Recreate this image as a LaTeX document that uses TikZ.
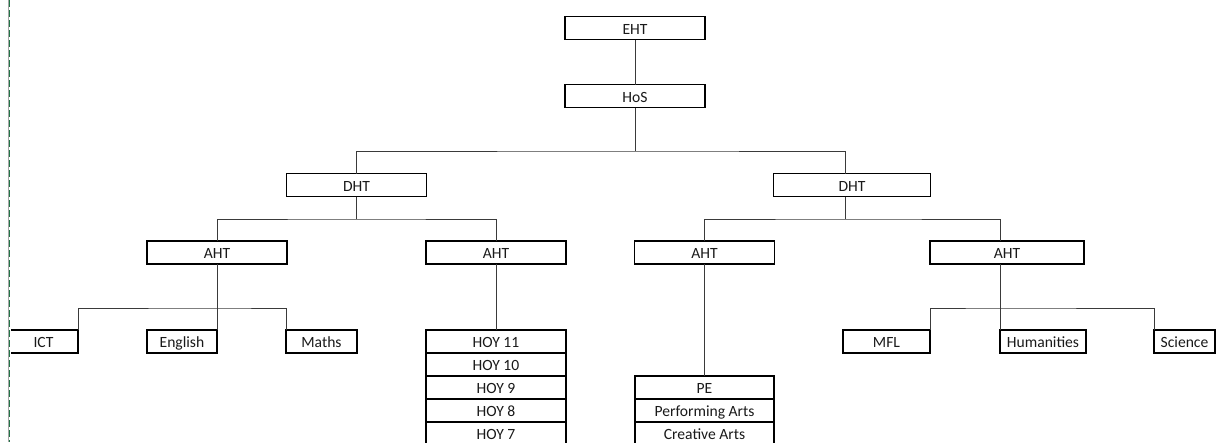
\documentclass[tikz,border=0pt]{standalone}
\usepackage{fontspec}
\setmainfont{Carlito}
\usepackage{tikz}
\usetikzlibrary{positioning, calc}
\definecolor{ohTexto}{HTML}{1A1A1A}
\definecolor{ohLinha}{HTML}{3A3A3A}
\definecolor{ohVerde}{HTML}{217346}
\definecolor{ohCinza}{HTML}{A6A6A6}

\begin{document}
\begin{tikzpicture}[x=1pt, y=-1pt, node distance=0pt]
  \tikzset{
    cargo/.style={draw=black, line width=1.8pt, fill=white, minimum width=140pt,
                  minimum height=23pt, inner sep=0pt, outer sep=0pt, text height=14pt,
                  text depth=2pt, text=ohTexto, font=\fontsize{15.6}{18}\selectfont},
    lig/.style={ohLinha, line width=1pt}}
  \clip (0,0) rectangle (1216,442);
  % topo
  \node[cargo] (eht) at (635,28) {EHT};
  \node[cargo] (hos) at (635,96) {HoS};
  \node[cargo] (dht1) at (356.5,185) {DHT};
  \node[cargo, minimum width=157pt] (dht2) at (852,185) {DHT};
  \node[cargo] (aht1) at (217,252.5) {AHT};
  \node[cargo] (aht2) at (496,252.5) {AHT};
  \node[cargo] (aht3) at (704.5,252.5) {AHT};
  \node[cargo, minimum width=154pt] (aht4) at (1007,252.5) {AHT};
  % folhas
  \node[cargo, minimum width=69pt] (ict) at (43.5,341.5) {ICT};
  \node[cargo, minimum width=70pt] (eng) at (182,341.5) {English};
  \node[cargo, minimum width=71pt] (mat) at (321.5,341.5) {Maths};
  \node[cargo] (hoy11) at (496,341.5) {HOY 11};
  \foreach \i/\p in {10/11,9/10,8/9,7/8} \node[cargo, below=of hoy\p] (hoy\i) {HOY \i};
  \node[cargo, minimum width=139pt] (pe) at (704.5,387.5) {PE};
  \node[cargo, minimum width=139pt, below=of pe] (pa) {Performing Arts};
  \node[cargo, minimum width=139pt, below=of pa] (ca) {Creative Arts};
  \node[cargo, minimum width=87pt] (mfl) at (886.5,341.5) {MFL};
  \node[cargo, minimum width=86pt] (hum) at (1043,341.5) {Humanities};
  \node[cargo, minimum width=61pt] (sci) at (1184.5,341.5) {Science};
  % ligacoes
  \coordinate (b0) at (635,151);
  \coordinate (b1) at (356.5,219);
  \coordinate (b2) at (845,219);
  \coordinate (b3) at (217,308);
  \coordinate (b4) at (1000,308);
  \draw[lig] (eht) -- (hos);
  \draw[lig] (hos) -- (b0);
  \draw[lig] (dht1.north) |- (b0) -| ($(dht2.north)+(-7,0)$);
  \draw[lig] (dht1) -- (b1);
  \draw[lig] (aht1.north) |- (b1) -| (aht2.north);
  \draw[lig] ($(dht2.south)+(-7,0)$) -- (b2);
  \draw[lig] (aht3.north) |- (b2) -| (aht4.north -| b4);
  \draw[lig] (aht1) -- (eng.north east);
  \draw[lig] (ict.north east) |- (b3) -| (mat.north west);
  \draw[lig] (aht2) -- (hoy11);
  \draw[lig] (aht3) -- (pe);
  \draw[lig] (aht4.south -| b4) -- (hum.north west);
  \draw[lig] (mfl.north east) |- (b4) -| (sci.north west);
  % quebra de pagina
  \draw[white, line width=3pt] (9,0) -- (9,442);
  \draw[ohCinza, line width=1pt] (8,0) -- (8,442);
  \draw[ohVerde, line width=1.2pt, dash pattern=on 7pt off 3pt] (9.5,0) -- (9.5,442);
\end{tikzpicture}
\end{document}
